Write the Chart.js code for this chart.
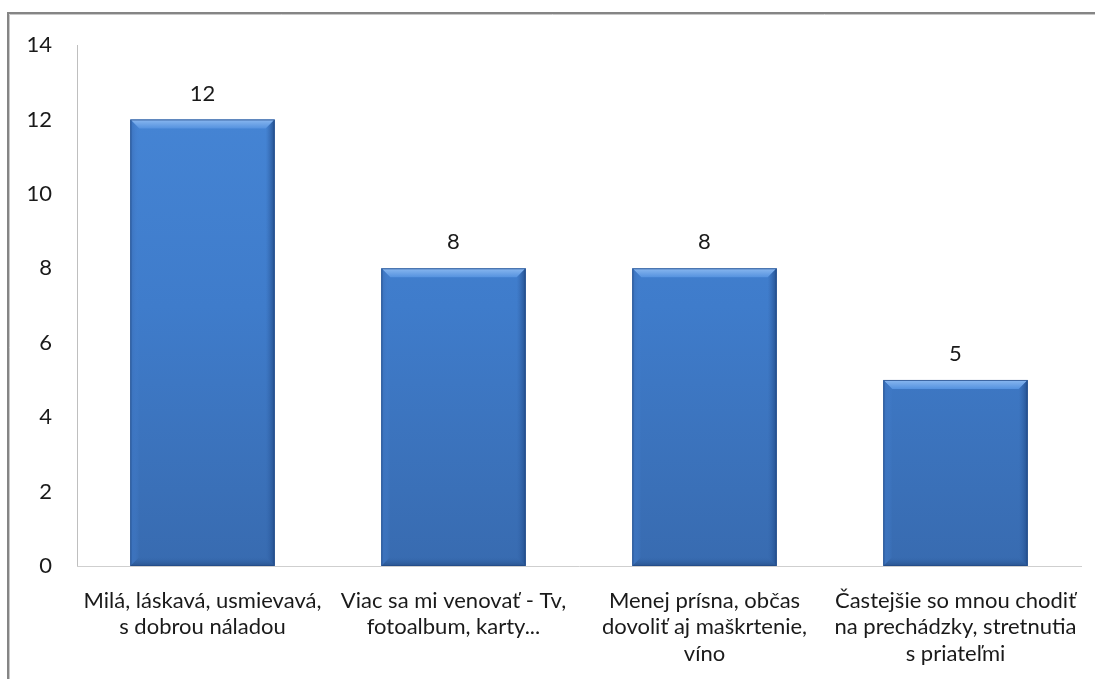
<!DOCTYPE html>
<html>
<head>
<meta charset="utf-8">
<script src="https://cdn.jsdelivr.net/npm/chart.js@4"></script>
<style>
  html, body { margin: 0; padding: 0; background: #fff; }
  #wrap { position: relative; width: 1095px; height: 679px; overflow: hidden; }
  canvas { display: block; }
</style>
</head>
<body>
<div id="wrap"><canvas id="c" width="1095" height="679"></canvas></div>
<script>
const categories = [
  ["Milá, láskavá, usmievavá,", "s dobrou náladou"],
  ["Viac sa mi venovať - Tv,", "fotoalbum, karty..."],
  ["Menej prísna, občas", "dovoliť aj maškrtenie,", "víno"],
  ["Častejšie so mnou chodiť", "na prechádzky, stretnutia", "s priateľmi"]
];
const counts = [12, 8, 8, 5];
const yTicks = [0, 2, 4, 6, 8, 10, 12, 14];

const FONT = "Lato, 'Open Sans', sans-serif";

// Outer frame of the chart object
const framePlugin = {
  id: 'frame',
  beforeDraw(chart) {
    const ctx = chart.ctx;
    ctx.save();
    ctx.fillStyle = '#ffffff';
    ctx.fillRect(0, 0, chart.width, chart.height);
    ctx.strokeStyle = '#858585';
    ctx.lineWidth = 2;
    ctx.beginPath();
    ctx.moveTo(8, chart.height + 2);
    ctx.lineTo(8, 13);
    ctx.lineTo(chart.width + 2, 13);
    ctx.stroke();
    ctx.strokeStyle = '#c8c8c8';
    ctx.lineWidth = 1;
    ctx.beginPath();
    ctx.moveTo(9.5, chart.height + 2);
    ctx.lineTo(9.5, 14.5);
    ctx.lineTo(chart.width + 2, 14.5);
    ctx.stroke();
    ctx.restore();
  }
};

// Bevelled edges on each bar, drawn from the bar elements' own geometry
const bevelPlugin = {
  id: 'bevel',
  afterDatasetsDraw(chart) {
    const ctx = chart.ctx;
    const meta = chart.getDatasetMeta(0);
    meta.data.forEach(bar => {
      const p = bar.getProps(['x', 'y', 'base', 'width'], true);
      const l = p.x - p.width / 2, r = p.x + p.width / 2;
      const t = p.y, b = p.base;
      const k = 9;
      ctx.save();
      // top facet
      let g = ctx.createLinearGradient(0, t, 0, t + k);
      g.addColorStop(0, '#8ab8f0');
      g.addColorStop(1, '#5592df');
      ctx.fillStyle = g;
      ctx.beginPath();
      ctx.moveTo(l, t); ctx.lineTo(r, t); ctx.lineTo(r - k, t + k); ctx.lineTo(l + k, t + k);
      ctx.closePath(); ctx.fill();
      // left facet
      g = ctx.createLinearGradient(l, 0, l + k, 0);
      g.addColorStop(0, '#3a70ba');
      g.addColorStop(1, 'rgba(70,130,210,0)');
      ctx.fillStyle = g;
      ctx.beginPath();
      ctx.moveTo(l, t); ctx.lineTo(l + k, t + k); ctx.lineTo(l + k, b - k); ctx.lineTo(l, b);
      ctx.closePath(); ctx.fill();
      // right facet
      g = ctx.createLinearGradient(r, 0, r - k, 0);
      g.addColorStop(0, '#24508f');
      g.addColorStop(1, 'rgba(50,100,170,0)');
      ctx.fillStyle = g;
      ctx.beginPath();
      ctx.moveTo(r, t); ctx.lineTo(r - k, t + k); ctx.lineTo(r - k, b - k); ctx.lineTo(r, b);
      ctx.closePath(); ctx.fill();
      // bottom facet
      g = ctx.createLinearGradient(0, b, 0, b - k);
      g.addColorStop(0, '#2a5590');
      g.addColorStop(1, 'rgba(50,100,170,0)');
      ctx.fillStyle = g;
      ctx.beginPath();
      ctx.moveTo(l, b); ctx.lineTo(l + k, b - k); ctx.lineTo(r - k, b - k); ctx.lineTo(r, b);
      ctx.closePath(); ctx.fill();
      // thin outline
      ctx.strokeStyle = 'rgba(35,75,135,0.8)';
      ctx.lineWidth = 1;
      ctx.strokeRect(l + 0.5, t + 0.5, p.width - 1, b - t - 1);
      ctx.restore();
    });
  }
};

// Value labels above each bar
const valueLabelPlugin = {
  id: 'valueLabels',
  afterDatasetsDraw(chart) {
    const ctx = chart.ctx;
    const ds = chart.data.datasets[0];
    const meta = chart.getDatasetMeta(0);
    ctx.save();
    ctx.font = '22px ' + FONT;
    ctx.fillStyle = '#1a1a1a';
    ctx.textAlign = 'center';
    ctx.textBaseline = 'middle';
    meta.data.forEach((bar, i) => {
      ctx.fillText(String(ds.data[i]), bar.x, bar.y - 26);
    });
    ctx.restore();
  }
};

new Chart(document.getElementById('c'), {
  type: 'bar',
  data: {
    labels: categories,
    datasets: [{
      data: counts,
      categoryPercentage: 1,
      barPercentage: 0.575,
      borderWidth: 0,
      backgroundColor(ctx) {
        const area = ctx.chart.chartArea;
        if (!area) return '#4080d0';
        const g = ctx.chart.ctx.createLinearGradient(0, area.top, 0, area.bottom);
        g.addColorStop(0, '#4787d7');
        g.addColorStop(0.5, '#3f7ccb');
        g.addColorStop(1, '#386bb0');
        return g;
      }
    }]
  },
  options: {
    responsive: false,
    animation: false,
    devicePixelRatio: 1,
    layout: { padding: { left: 0, right: 14, top: 45, bottom: 0 } },
    plugins: { legend: { display: false }, tooltip: { enabled: false } },
    scales: {
      y: {
        min: 0, max: 14,
        afterBuildTicks(scale) { scale.ticks = yTicks.map(v => ({ value: v })); },
        afterFit(scale) { scale.width = 77; scale.paddingTop = 0; scale.paddingBottom = 0; },
        grid: { display: false, drawTicks: false },
        border: { display: true, color: '#bfbfbf', width: 1 },
        ticks: {
          padding: 25,
          color: '#1a1a1a',
          font: { family: FONT, size: 22 }
        }
      },
      x: {
        afterFit(scale) { scale.height = 113; scale.paddingLeft = 0; scale.paddingRight = 0; },
        grid: { display: false, drawTicks: false },
        border: { display: true, color: '#cfcfcf', width: 1 },
        ticks: {
          padding: 21,
          maxRotation: 0,
          autoSkip: false,
          color: '#1a1a1a',
          font: { family: FONT, size: 22, lineHeight: 1.22 }
        }
      }
    }
  },
  plugins: [framePlugin, bevelPlugin, valueLabelPlugin]
});
</script>
</body>
</html>
